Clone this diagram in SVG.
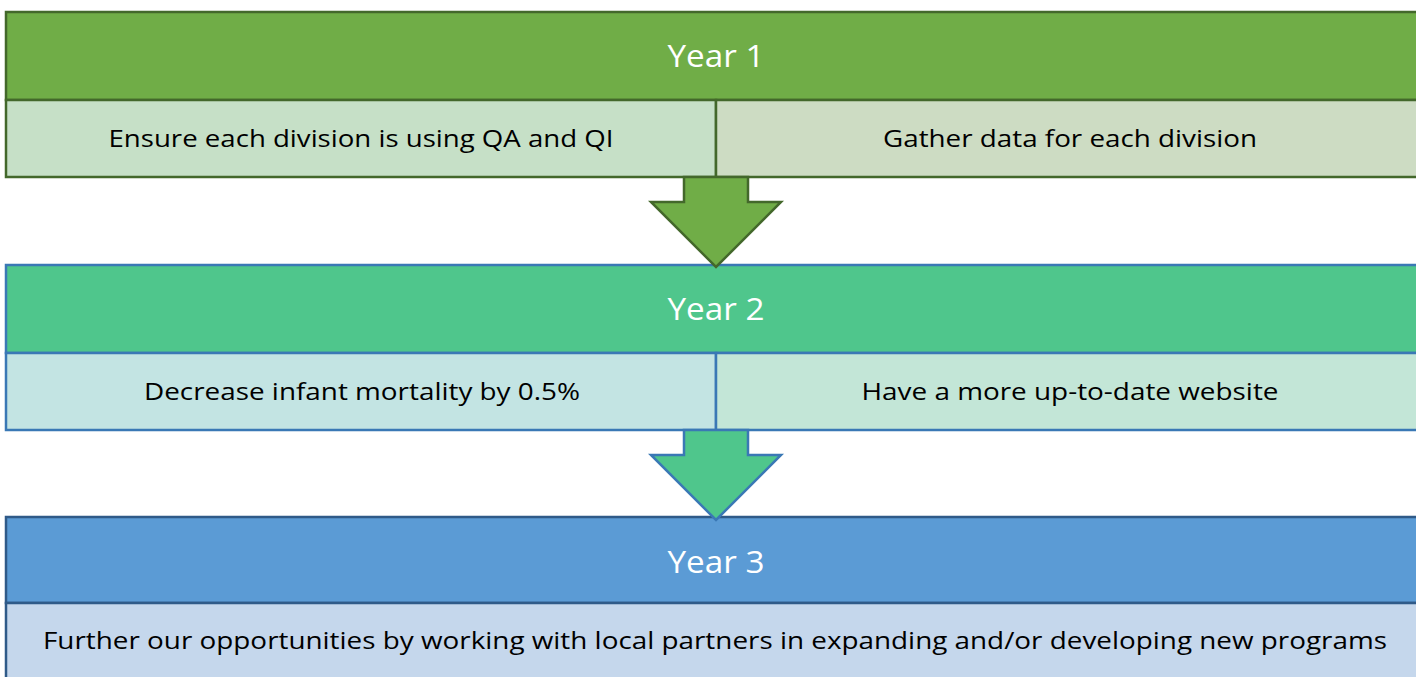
<svg xmlns="http://www.w3.org/2000/svg" width="1416" height="677" viewBox="0 0 1416 677">
<style>
.t{font-family:"Open Sans","Liberation Sans",Arial,sans-serif;text-anchor:middle}
.h{fill:#ffffff;font-size:31px}
.s{fill:#000000;font-size:24px}
.g{stroke:#43682b;stroke-width:2.5}
.b2{stroke:#3a78b5;stroke-width:2.5}
.b3{stroke:#2f5a88;stroke-width:2.5}
</style>
<rect width="1416" height="677" fill="#ffffff"/>
<g id="year1">
<rect class="g" x="6" y="12" width="1420" height="88" fill="#70ad47"/>
<rect class="g" x="6" y="100" width="710" height="77" fill="#c6e0c7"/>
<rect class="g" x="716" y="100" width="710" height="77" fill="#cddcc3"/>
<text class="t h" x="716" y="67" textLength="97" lengthAdjust="spacingAndGlyphs">Year 1</text>
<text class="t s" x="361" y="147" textLength="505" lengthAdjust="spacingAndGlyphs">Ensure each division is using QA and QI</text>
<text class="t s" x="1070" y="147" textLength="374" lengthAdjust="spacingAndGlyphs">Gather data for each division</text>
</g>
<g id="year2">
<rect class="b2" x="6" y="265" width="1420" height="88" fill="#4fc68c"/>
<rect class="b2" x="6" y="353" width="710" height="77" fill="#c3e4e3"/>
<rect class="b2" x="716" y="353" width="710" height="77" fill="#c3e6d7"/>
<text class="t h" x="716" y="320" textLength="97" lengthAdjust="spacingAndGlyphs">Year 2</text>
<text class="t s" x="362" y="400" textLength="436" lengthAdjust="spacingAndGlyphs">Decrease infant mortality by 0.5%</text>
<text class="t s" x="1070" y="400" textLength="417" lengthAdjust="spacingAndGlyphs">Have a more up-to-date website</text>
</g>
<g id="year3">
<rect class="b3" x="6" y="517" width="1420" height="86" fill="#5b9bd5"/>
<rect class="b3" x="6" y="603" width="1420" height="90" fill="#c5d7ec"/>
<text class="t h" x="716" y="573" textLength="97" lengthAdjust="spacingAndGlyphs">Year 3</text>
<text class="t s" x="715" y="649" textLength="1344" lengthAdjust="spacingAndGlyphs">Further our opportunities by working with local partners in expanding and/or developing new programs</text>
</g>
<g id="connectors">
<path class="g" d="M684 177 L748 177 L748 202 L781 202 L716 267 L651 202 L684 202 Z" fill="#70ad47"/>
<path class="b2" d="M684 430 L748 430 L748 455 L781 455 L716 520 L651 455 L684 455 Z" fill="#4fc68c"/>
</g>
</svg>
